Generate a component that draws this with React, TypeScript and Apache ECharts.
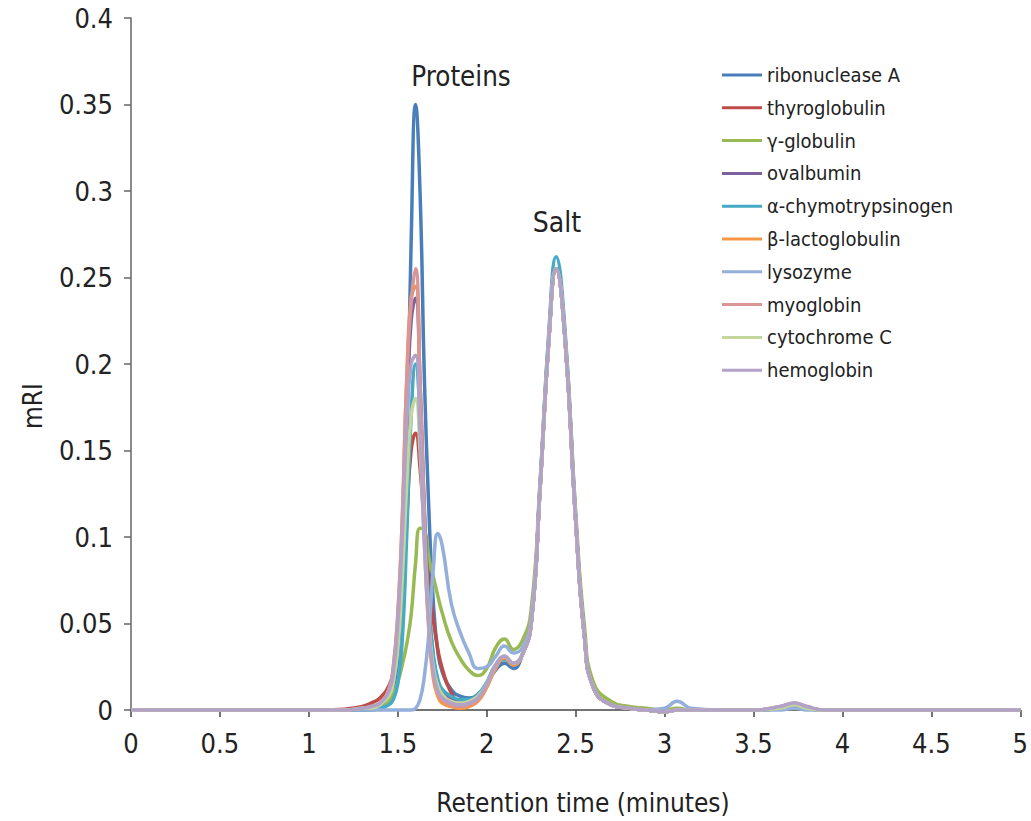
import React, { useEffect, useRef } from "react";
import * as echarts from "echarts";

// Retention time grid (minutes)
const times = [
  0, 0.5, 1, 1.2, 1.3, 1.35, 1.4,
  1.45, 1.475, 1.5, 1.525, 1.55, 1.575, 1.6, 1.625, 1.65, 1.675, 1.7, 1.725, 1.75,
  1.8, 1.85, 1.9, 1.95, 2, 2.05, 2.1, 2.15,
  2.2, 2.25, 2.3, 2.35, 2.39, 2.44, 2.5, 2.55, 2.6,
  2.7, 2.8, 2.9, 3, 3.07, 3.15, 3.3, 3.5, 3.65, 3.73, 3.8, 3.9, 4, 4.5, 5,
];

const ribonucleaseA = [
  0, 0, 0, 0, 0, 0.001, 0.002,
  0.006, 0.012, 0.03, 0.07, 0.15, 0.27, 0.35, 0.3, 0.19, 0.115, 0.062, 0.034, 0.022,
  0.012, 0.008, 0.007, 0.009, 0.015, 0.023, 0.027, 0.024,
  0.032, 0.05, 0.128, 0.215, 0.255, 0.215, 0.11, 0.042, 0.013,
  0.003, 0.001, 0, -0.001, 0, 0, 0, 0, 0.001, 0.002, 0.001, 0, 0, 0, 0,
];
const thyroglobulin = [
  0, 0, 0, 0.0005, 0.002, 0.004, 0.007,
  0.014, 0.022, 0.04, 0.07, 0.11, 0.15, 0.16, 0.14, 0.105, 0.075, 0.052, 0.035, 0.024,
  0.01, 0.005, 0.005, 0.008, 0.015, 0.026, 0.03, 0.026,
  0.032, 0.05, 0.128, 0.215, 0.255, 0.215, 0.11, 0.042, 0.013,
  0.003, 0.001, 0, -0.001, 0, 0, 0, 0, 0.001, 0.003, 0.001, 0, 0, 0, 0,
];
const gammaGlobulin = [
  0, 0, 0, 0, 0, 0.001, 0.002,
  0.005, 0.009, 0.016, 0.026, 0.038, 0.055, 0.085, 0.105, 0.104, 0.088, 0.077, 0.066, 0.056,
  0.04, 0.03, 0.023, 0.02, 0.024, 0.036, 0.041, 0.035,
  0.04, 0.058, 0.132, 0.217, 0.255, 0.217, 0.115, 0.048, 0.016,
  0.005, 0.002, 0.001, 0, 0.001, 0, 0, 0, 0.001, 0.002, 0.001, 0, 0, 0, 0,
];
const ovalbumin = [
  0, 0, 0, 0, 0.001, 0.002, 0.003,
  0.01, 0.02, 0.045, 0.095, 0.17, 0.225, 0.238, 0.19, 0.115, 0.06, 0.03, 0.016, 0.01,
  0.006, 0.004, 0.005, 0.008, 0.015, 0.025, 0.03, 0.026,
  0.032, 0.05, 0.128, 0.215, 0.255, 0.215, 0.11, 0.042, 0.013,
  0.003, 0.001, 0, -0.001, 0, 0, 0, 0, 0.001, 0.003, 0.001, 0, 0, 0, 0,
];
const chymotrypsinogen = [
  0, 0, 0, 0, 0, 0, 0.001,
  0.003, 0.006, 0.015, 0.04, 0.1, 0.17, 0.2, 0.17, 0.11, 0.06, 0.032, 0.018, 0.012,
  0.008, 0.006, 0.006, 0.009, 0.016, 0.026, 0.029, 0.026,
  0.032, 0.05, 0.13, 0.22, 0.262, 0.22, 0.112, 0.043, 0.013,
  0.003, 0.001, 0, -0.001, 0, 0, 0, 0, 0.001, 0.002, 0.001, 0, 0, 0, 0,
];
const lactoglobulin = [
  0, 0, 0, 0, 0.001, 0.002, 0.004,
  0.012, 0.025, 0.055, 0.11, 0.19, 0.238, 0.245, 0.185, 0.1, 0.045, 0.018, 0.008, 0.004,
  0.002, 0.001, 0.002, 0.005, 0.013, 0.024, 0.03, 0.026,
  0.032, 0.05, 0.128, 0.215, 0.255, 0.215, 0.11, 0.042, 0.013,
  0.003, 0.001, 0, -0.001, 0, 0, 0, 0, 0.001, 0.003, 0.001, 0, 0, 0, 0,
];
const lysozyme = [
  0, 0, 0, 0, 0, 0, 0,
  0, 0, 0, 0, 0, 0, 0.001, 0.006, 0.02, 0.045, 0.082, 0.102, 0.095,
  0.062, 0.045, 0.033, 0.024, 0.025, 0.031, 0.037, 0.033,
  0.036, 0.053, 0.129, 0.215, 0.255, 0.215, 0.11, 0.042, 0.013,
  0.003, 0.001, 0, 0.001, 0.005, 0.001, 0, 0, 0, 0.001, 0, 0, 0, 0, 0,
];
const myoglobin = [
  0, 0, 0, 0, 0.001, 0.002, 0.004,
  0.012, 0.025, 0.055, 0.11, 0.19, 0.235, 0.255, 0.19, 0.11, 0.05, 0.022, 0.01, 0.006,
  0.003, 0.002, 0.003, 0.006, 0.014, 0.025, 0.031, 0.027,
  0.032, 0.05, 0.128, 0.215, 0.255, 0.215, 0.11, 0.042, 0.013,
  0.003, 0.001, 0, -0.001, 0, 0, 0, 0, 0.002, 0.004, 0.002, 0, 0, 0, 0,
];
const cytochromeC = [
  0, 0, 0, 0, 0.001, 0.001, 0.003,
  0.008, 0.016, 0.035, 0.075, 0.13, 0.17, 0.18, 0.15, 0.095, 0.05, 0.025, 0.014, 0.009,
  0.005, 0.004, 0.005, 0.008, 0.015, 0.026, 0.031, 0.027,
  0.032, 0.05, 0.128, 0.215, 0.255, 0.215, 0.11, 0.042, 0.013,
  0.003, 0.001, 0, -0.001, 0, 0, 0, 0, 0.001, 0.003, 0.001, 0, 0, 0, 0,
];
const hemoglobin = [
  0, 0, 0, 0, 0.001, 0.002, 0.004,
  0.011, 0.022, 0.05, 0.1, 0.165, 0.2, 0.205, 0.16, 0.095, 0.048, 0.022, 0.011, 0.007,
  0.004, 0.003, 0.004, 0.007, 0.015, 0.026, 0.031, 0.027,
  0.032, 0.05, 0.128, 0.215, 0.255, 0.215, 0.11, 0.042, 0.013,
  0.003, 0.001, 0, -0.001, 0, 0, 0, 0, 0.002, 0.004, 0.002, 0, 0, 0, 0,
];

const seriesNames = [
  "ribonuclease A",
  "thyroglobulin",
  "γ-globulin",
  "ovalbumin",
  "α-chymotrypsinogen",
  "β-lactoglobulin",
  "lysozyme",
  "myoglobin",
  "cytochrome C",
  "hemoglobin",
];
const seriesValues = [
  ribonucleaseA, thyroglobulin, gammaGlobulin, ovalbumin, chymotrypsinogen,
  lactoglobulin, lysozyme, myoglobin, cytochromeC, hemoglobin,
];
const seriesColors = [
  "#4A7EBB", "#BE4B48", "#98B954", "#7D60A0", "#46AAC5",
  "#F69546", "#93AFDA", "#D99694", "#C3D69B", "#B3A2C7",
];

const FONT = "'DejaVu Sans Condensed', 'Liberation Sans', sans-serif";

export default function App() {
  const ref = useRef<HTMLDivElement>(null);
  useEffect(() => {
    const chart = echarts.init(ref.current!, null, { renderer: "svg" });
    chart.setOption({
      animation: false,
      backgroundColor: "#ffffff",
      textStyle: { fontFamily: FONT },
      grid: { left: 131, top: 18, width: 890, height: 692, containLabel: false },
      legend: {
        orient: "vertical",
        left: 722,
        top: 63,
        padding: 0,
        icon: "rect",
        itemWidth: 40,
        itemHeight: 3,
        itemGap: 8.8,
        textStyle: { fontFamily: FONT, fontSize: 20, lineHeight: 24, color: "#222" },
        data: seriesNames,
      },
      xAxis: {
        type: "value",
        min: 0,
        max: 5,
        interval: 0.5,
        axisLine: { lineStyle: { color: "#444", width: 1.5 } },
        axisTick: { show: true, length: 7, lineStyle: { color: "#444", width: 1.5 } },
        axisLabel: {
          fontFamily: FONT,
          fontSize: 27,
          color: "#222",
          margin: 20,
          formatter: (v: number) => String(+v.toFixed(2)),
        },
        splitLine: { show: false },
      },
      yAxis: {
        type: "value",
        min: 0,
        max: 0.4,
        interval: 0.05,
        axisLine: { show: true, lineStyle: { color: "#666", width: 1.5 } },
        axisTick: { show: true, length: 7, lineStyle: { color: "#666", width: 1.5 } },
        axisLabel: {
          fontFamily: FONT,
          fontSize: 27,
          color: "#222",
          margin: 18,
          formatter: (v: number) => String(+v.toFixed(2)),
        },
        splitLine: { show: false },
      },
      graphic: [
        {
          type: "text",
          x: 461,
          y: 76,
          style: {
            text: "Proteins",
            fontFamily: FONT,
            fontSize: 27.5,
            fill: "#222",
            textAlign: "center",
            textVerticalAlign: "middle",
          },
        },
        {
          type: "text",
          x: 557,
          y: 222,
          style: {
            text: "Salt",
            fontFamily: FONT,
            fontSize: 28,
            fill: "#222",
            textAlign: "center",
            textVerticalAlign: "middle",
          },
        },
        {
          type: "text",
          x: 583,
          y: 803,
          style: {
            text: "Retention time (minutes)",
            fontFamily: FONT,
            fontSize: 26,
            fill: "#222",
            textAlign: "center",
            textVerticalAlign: "middle",
          },
        },
        {
          type: "text",
          x: 33,
          y: 406,
          rotation: Math.PI / 2,
          style: {
            text: "mRI",
            fontFamily: FONT,
            fontSize: 26,
            fill: "#222",
            textAlign: "center",
            textVerticalAlign: "middle",
          },
        },
      ],
      series: seriesNames.map((name, i) => ({
        type: "line",
        name,
        data: times.map((t, j) => [t, seriesValues[i][j]]),
        showSymbol: false,
        symbol: "none",
        smooth: 0.5,
        clip: false,
        color: seriesColors[i],
        lineStyle: { color: seriesColors[i], width: 3.5 },
        itemStyle: { color: seriesColors[i] },
      })),
    });
    return () => chart.dispose();
  }, []);
  return (
    <div
      ref={ref}
      style={{ position: "fixed", left: 0, top: 0, width: 1031, height: 821, background: "#fff" }}
    />
  );
}
